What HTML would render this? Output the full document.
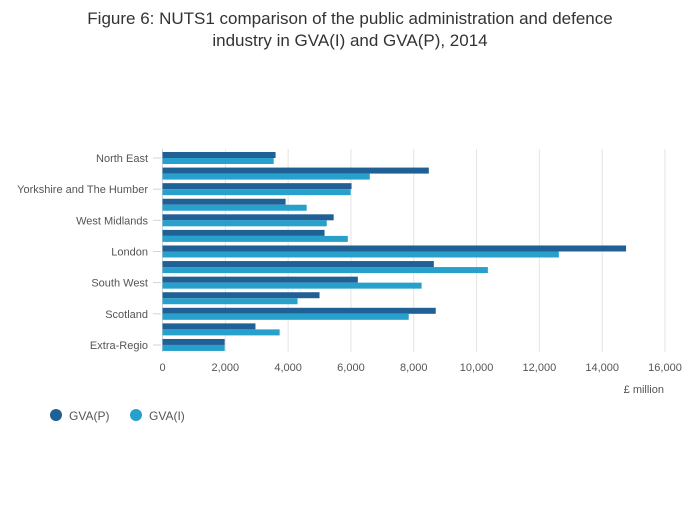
<!DOCTYPE html>
<html><head><meta charset="utf-8"><style>
body{margin:0;background:#fff;font-family:"Liberation Sans",sans-serif}
svg text{font-family:"Liberation Sans",sans-serif}
</style></head><body>
<svg id="chart" width="700" height="502">
<text x="350" y="24" text-anchor="middle" font-size="17" fill="#333">Figure 6: NUTS1 comparison of the public administration and defence</text>
<text x="350" y="46" text-anchor="middle" font-size="17" fill="#333">industry in GVA(I) and GVA(P), 2014</text>
<g id="grid"></g><g id="bars"></g><g id="axes"></g>
<text x="664" y="393" text-anchor="end" font-size="11" fill="#555">£ million</text>
<g>
<circle cx="56" cy="415" r="6" fill="#206095"/>
<text x="69" y="420" font-size="12" fill="#555">GVA(P)</text>
<circle cx="136" cy="415" r="6" fill="#27a0cc"/>
<text x="149" y="420" font-size="12" fill="#555">GVA(I)</text>
</g>
</svg>
<script>
const categories=["North East","North West","Yorkshire and The Humber","East Midlands","West Midlands","East","London","South East","South West","Wales","Scotland","Northern Ireland","Extra-Regio"];
const gvaP=[3600,8480,6020,3920,5450,5160,14760,8640,6220,5000,8700,2960,1980];
const gvaI=[3540,6600,5990,4590,5230,5900,12620,10360,8250,4300,7840,3730,1980];
const xTicks=[0,2000,4000,6000,8000,10000,12000,14000,16000];
const x=v=>162.5+v*502.5/16000;
const y=i=>158+i*15.58;
const ns="http://www.w3.org/2000/svg";
const grid=document.getElementById('grid'),bars=document.getElementById('bars'),axes=document.getElementById('axes');
function mk(tag,attrs,parent){const e=document.createElementNS(ns,tag);for(const k in attrs)e.setAttribute(k,attrs[k]);parent.appendChild(e);return e;}
xTicks.forEach(t=>{
  const l=mk('line',{x1:x(t),x2:x(t),y1:149,y2:352,stroke:t===0?'#ccd4e2':'#e4e4e4','stroke-width':1},grid);
  
  
  const tx=mk('text',{x:x(t),y:371,'text-anchor':'middle','font-size':11,fill:'#555'},axes);
  tx.textContent=t.toLocaleString('en-US');
  
  
});
categories.forEach((c,i)=>{
  const c0=y(i);
  const bp=mk('rect',{x:x(0),y:c0-6,width:x(gvaP[i])-x(0),height:6,fill:'#206095'},bars);
  
  
  const bi=mk('rect',{x:x(0),y:c0,width:x(gvaI[i])-x(0),height:6,fill:'#27a0cc'},bars);
  
  
  if(i%2===0){
    const tk=mk('line',{x1:153,x2:161,y1:c0,y2:c0,stroke:'#ccd4e2','stroke-width':1},axes);
    
    
    const t=mk('text',{x:148,y:c0+4,'text-anchor':'end','font-size':11,fill:'#555'},axes);
    t.textContent=c;
    
    
  }
});
</script>
</body></html>
